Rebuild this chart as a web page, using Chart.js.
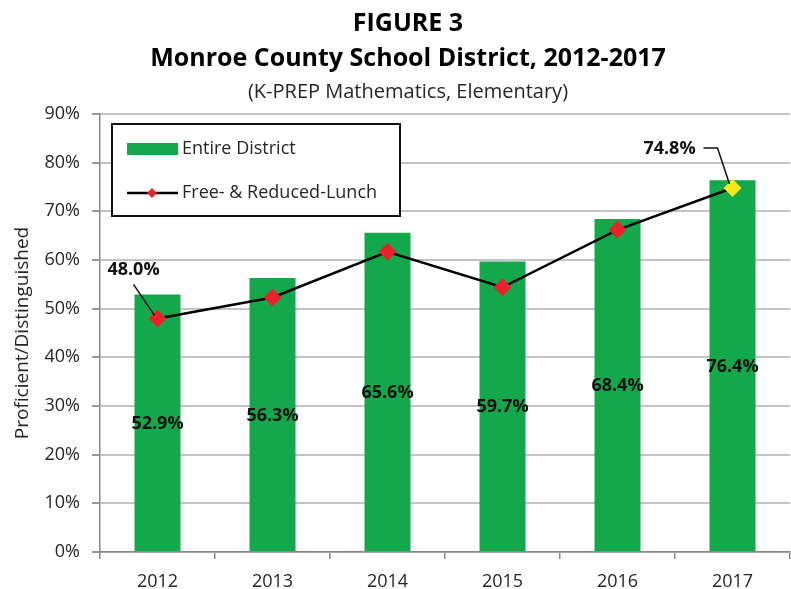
<!DOCTYPE html>
<html><head><meta charset="utf-8">
<script src="https://cdn.jsdelivr.net/npm/chart.js@4/dist/chart.umd.min.js"></script>
<style>html,body{margin:0;padding:0;background:#fff;overflow:hidden;} #wrap{width:799px;height:589px;}</style>
</head><body><div id="wrap"><canvas id="c" width="799" height="589"></canvas></div>
<script>
const categories = ['2012', '2013', '2014', '2015', '2016', '2017'];
const districtValues = [52.9, 56.3, 65.6, 59.7, 68.4, 76.4];
const lunchValues = [48.0, 52.3, 61.7, 54.4, 66.2, 74.8];
const yTickValues = [0, 10, 20, 30, 40, 50, 60, 70, 80, 90];
const titleLines = ['FIGURE 3', 'Monroe County School District, 2012-2017'];
const subtitleText = '(K-PREP Mathematics, Elementary)';
const yAxisTitle = 'Proficient/Distinguished';
const seriesNames = ['Entire District', 'Free- & Reduced-Lunch'];
const labeledLunchPoints = [0, 5];

const FONT = 'Open Sans';
const GREEN = '#13a84b', RED = '#e8222a', YELLOW = '#f7e81c', TXT = '#262626';
const lastIdx = lunchValues.length - 1;

const annotPlugin = {
  id: 'annot',
  afterDatasetsDraw(chart) {
    const ctx = chart.ctx;
    const barMeta = chart.getDatasetMeta(1);
    const lineMeta = chart.getDatasetMeta(0);
    ctx.save();
    ctx.font = 'bold 18px "' + FONT + '"';
    ctx.fillStyle = '#111';
    ctx.textAlign = 'center';
    ctx.textBaseline = 'middle';
    barMeta.data.forEach((el, i) => {
      ctx.fillText(districtValues[i].toFixed(1) + '%', el.x, (el.y + el.base) / 2 + 1);
    });
    ctx.strokeStyle = '#111';
    ctx.lineWidth = 1.5;
    labeledLunchPoints.forEach(i => {
      const p = lineMeta.data[i];
      const txt = lunchValues[i].toFixed(1) + '%';
      ctx.beginPath();
      if (i === 0) {
        ctx.fillText(txt, p.x - 24, p.y - 49);
        ctx.moveTo(p.x - 24, p.y - 34);
        ctx.lineTo(p.x - 3, p.y - 3);
      } else {
        ctx.fillText(txt, p.x - 63, p.y - 39);
        ctx.moveTo(p.x - 29, p.y - 40);
        ctx.lineTo(p.x - 15, p.y - 40);
        ctx.lineTo(p.x - 3, p.y - 4);
      }
      ctx.stroke();
    });
    const a = chart.chartArea;
    const bx = a.left + 12, by = a.top + 10, bw = 288, bh = 92;
    ctx.fillStyle = '#fff';
    ctx.fillRect(bx, by, bw, bh);
    ctx.strokeStyle = '#111';
    ctx.lineWidth = 2;
    ctx.strokeRect(bx, by, bw, bh);
    ctx.fillStyle = GREEN;
    ctx.fillRect(bx + 15, by + 19, 51, 12);
    ctx.strokeStyle = '#000';
    ctx.lineWidth = 2.5;
    ctx.beginPath();
    ctx.moveTo(bx + 15, by + 69);
    ctx.lineTo(bx + 66, by + 69);
    ctx.stroke();
    ctx.fillStyle = RED;
    ctx.beginPath();
    const dx = bx + 40, dy = by + 69, r = 5;
    ctx.moveTo(dx, dy - r); ctx.lineTo(dx + r, dy); ctx.lineTo(dx, dy + r); ctx.lineTo(dx - r, dy); ctx.closePath();
    ctx.fill();
    ctx.fillStyle = TXT;
    ctx.font = '18px "' + FONT + '"';
    ctx.textAlign = 'left';
    ctx.fillText(seriesNames[0], bx + 70, by + 25);
    ctx.fillText(seriesNames[1], bx + 70, by + 69);
    ctx.restore();
  }
};

function build() {
  Chart.defaults.font.family = FONT;
  Chart.defaults.color = TXT;
  new Chart(document.getElementById('c'), {
    data: {
      labels: categories,
      datasets: [
        {
          type: 'line', label: seriesNames[1], data: lunchValues, order: 0,
          borderColor: '#000', borderWidth: 2.5, tension: 0,
          pointStyle: 'rectRot', pointRadius: 9, pointBorderWidth: 0,
          pointBackgroundColor: c => c.dataIndex === lastIdx ? YELLOW : RED,
          pointBorderColor: c => c.dataIndex === lastIdx ? YELLOW : RED
        },
        {
          type: 'bar', label: seriesNames[0], data: districtValues, order: 1,
          backgroundColor: GREEN, barPercentage: 0.4, categoryPercentage: 1.0
        }
      ]
    },
    options: {
      responsive: false, animation: false,
      layout: { padding: { left: 17, right: 0, top: 0, bottom: 0 } },
      plugins: {
        legend: { display: false },
        tooltip: { enabled: false },
        title: { display: true, text: titleLines, color: '#000', font: { size: 25, weight: 'bold', lineHeight: 1.42 }, padding: { top: 6, bottom: 3 } },
        subtitle: { display: true, text: subtitleText, color: TXT, font: { size: 20, lineHeight: 1.2 }, padding: { top: 0, bottom: 10 } }
      },
      scales: {
        x: {
          afterFit: s => { s.height = 37; },
          grid: { display: true, drawOnChartArea: false, offset: true, tickLength: 7, color: '#888', lineWidth: 1.5 },
          border: { color: '#888', width: 1.5 },
          ticks: { font: { size: 18 }, color: TXT, padding: 12 }
        },
        y: {
          min: 0, max: 90,
          afterBuildTicks: s => { s.ticks = yTickValues.map(v => ({ value: v })); },
          afterFit: s => { s.width = 83; },
          ticks: { font: { size: 18 }, color: TXT, padding: 12, callback: v => v + '%' },
          grid: { color: '#c4c4c4', lineWidth: 2, tickLength: 8, tickColor: '#999' },
          border: { color: '#888', width: 1.5 },
          title: { display: true, text: yAxisTitle, color: TXT, font: { size: 19 }, padding: { top: -6, bottom: 0 } }
        }
      }
    },
    plugins: [annotPlugin]
  });
}
(document.fonts && document.fonts.load ? Promise.all([document.fonts.load('18px "Open Sans"'), document.fonts.load('bold 18px "Open Sans"')]) : Promise.resolve()).then(build, build);
</script>
</body></html>
